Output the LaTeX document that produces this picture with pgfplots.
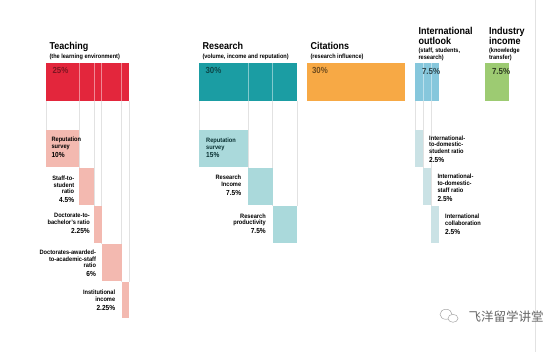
\documentclass[border=0pt]{standalone}
\usepackage{pgfplots}
\pgfplotsset{compat=1.18}
\usepackage{fontspec}
\setmainfont{Liberation Sans}[FakeStretch=0.9]
\newfontfamily\cjk{Noto Sans CJK SC}
\definecolor{teachD}{HTML}{E3263C}
\definecolor{teachL}{HTML}{F3B9B0}
\definecolor{resD}{HTML}{1B9DA3}
\definecolor{resL}{HTML}{AAD9DB}
\definecolor{citC}{HTML}{F7A945}
\definecolor{intD}{HTML}{86C7DC}
\definecolor{intL}{HTML}{CAE2E5}
\definecolor{indC}{HTML}{9DCB72}
\definecolor{guide}{HTML}{E2E2E2}
\newcommand\hd{\fontsize{10}{12}\selectfont\bfseries}
\newcommand\sbt{\fontsize{6.2}{7}\selectfont\bfseries}
\newcommand\lb{\fontsize{6.3}{7}\selectfont\bfseries}
\newcommand\pc{\fontsize{7.3}{8}\selectfont\bfseries}
\newcommand\bp{\fontsize{8.8}{9}\selectfont\bfseries}
\pgfplotsset{
 T/.style={x filter/.expression={46+3.32*x}},
 R/.style={x filter/.expression={199+3.27*x}},
 C/.style={x filter/.expression={307+3.27*x}},
 I/.style={x filter/.expression={415+3.2*x}},
 N/.style={x filter/.expression={485+3.2*x}},
 bar/.style={draw=none},
 gl/.style={guide, line width=0.6pt},
}
\begin{document}
\begin{tikzpicture}
\begin{axis}[at={(0,0)}, anchor=south west, width=556pt, height=352pt, scale only axis,
 xmin=0, xmax=556, ymin=0, ymax=352, y dir=reverse, hide axis, clip=false,
 every node/.style={inner sep=0pt, text=black!85}]
\path (rel axis cs:0,0) rectangle (rel axis cs:1,1);
% frame line
\addplot[guide, line width=0.6pt] coordinates {(535,0) (535,352)};
% ---------- guide lines (percent offsets)
\addplot[T,gl] coordinates {(0,101) (0,130)};
\addplot[T,gl] coordinates {(10,101) (10,168)};
\addplot[T,gl] coordinates {(14.5,101) (14.5,206)};
\addplot[T,gl] coordinates {(16.75,101) (16.75,244)};
\addplot[T,gl] coordinates {(22.75,101) (22.75,282)};
\addplot[T,gl] coordinates {(25,101) (25,282)};
\addplot[R,gl] coordinates {(0,101) (0,130)};
\addplot[R,gl] coordinates {(15,101) (15,168)};
\addplot[R,gl] coordinates {(22.5,101) (22.5,206)};
\addplot[R,gl] coordinates {(30,101) (30,206)};
\addplot[I,gl] coordinates {(0,101) (0,130)};
\addplot[I,gl] coordinates {(2.5,101) (2.5,168)};
\addplot[I,gl] coordinates {(5,101) (5,206)};
% ---------- Teaching 25%
\addplot[T,bar,fill=teachD] coordinates {(0,63) (25,63) (25,101) (0,101)} --cycle;
\addplot[T,teachD!55!white,line width=0.6pt] coordinates {(10,63) (10,101)};
\addplot[T,teachD!55!white,line width=0.6pt] coordinates {(14.5,63) (14.5,101)};
\addplot[T,teachD!55!white,line width=0.6pt] coordinates {(16.75,63) (16.75,101)};
\addplot[T,teachD!55!white,line width=0.6pt] coordinates {(22.75,63) (22.75,101)};
\addplot[T,bar,fill=teachL] coordinates {(0,130) (10,130) (10,167) (0,167)} --cycle;
\addplot[T,bar,fill=teachL] coordinates {(10,168) (14.5,168) (14.5,205) (10,205)} --cycle;
\addplot[T,bar,fill=teachL] coordinates {(14.5,206) (16.75,206) (16.75,243) (14.5,243)} --cycle;
\addplot[T,bar,fill=teachL] coordinates {(16.75,244) (22.75,244) (22.75,281) (16.75,281)} --cycle;
\addplot[T,bar,fill=teachL] coordinates {(22.75,282) (25,282) (25,318) (22.75,318)} --cycle;
% ---------- Research 30%
\addplot[R,bar,fill=resD] coordinates {(0,63) (30,63) (30,101) (0,101)} --cycle;
\addplot[R,resD!55!white,line width=0.6pt] coordinates {(15,63) (15,101)};
\addplot[R,resD!55!white,line width=0.6pt] coordinates {(22.5,63) (22.5,101)};
\addplot[R,bar,fill=resL] coordinates {(0,130) (15,130) (15,167) (0,167)} --cycle;
\addplot[R,bar,fill=resL] coordinates {(15,168) (22.5,168) (22.5,205) (15,205)} --cycle;
\addplot[R,bar,fill=resL] coordinates {(22.5,206) (30,206) (30,243) (22.5,243)} --cycle;
% ---------- Citations 30%
\addplot[C,bar,fill=citC] coordinates {(0,63) (30,63) (30,101) (0,101)} --cycle;
% ---------- International 7.5%
\addplot[I,bar,fill=intD] coordinates {(0,63) (7.5,63) (7.5,101) (0,101)} --cycle;
\addplot[I,intD!55!white,line width=0.6pt] coordinates {(2.5,63) (2.5,101)};
\addplot[I,intD!55!white,line width=0.6pt] coordinates {(5,63) (5,101)};
\addplot[I,bar,fill=intL] coordinates {(0,130) (2.5,130) (2.5,167) (0,167)} --cycle;
\addplot[I,bar,fill=intL] coordinates {(2.5,168) (5,168) (5,205) (2.5,205)} --cycle;
\addplot[I,bar,fill=intL] coordinates {(5,206) (7.5,206) (7.5,243) (5,243)} --cycle;
% ---------- Industry 7.5%
\addplot[N,bar,fill=indC] coordinates {(0,63) (7.5,63) (7.5,101) (0,101)} --cycle;

% ---------- headers
\node[anchor=base west] at (axis cs:46,49.5) {\hd Teaching};
\node[anchor=base west] at (axis cs:46,58.5) {\sbt (the learning environment)};
\node[anchor=base west] at (axis cs:199,49.5) {\hd Research};
\node[anchor=base west] at (axis cs:199,58.5) {\sbt (volume, income and reputation)};
\node[anchor=base west] at (axis cs:307,49.5) {\hd Citations};
\node[anchor=base west] at (axis cs:307,58.5) {\sbt (research influence)};
\node[anchor=base west] at (axis cs:415,34.3) {\hd International};
\node[anchor=base west] at (axis cs:415,44.3) {\hd outlook};
\node[anchor=base west] at (axis cs:415,52.5) {\sbt (staff, students,};
\node[anchor=base west] at (axis cs:415,59.5) {\sbt research)};
\node[anchor=base west] at (axis cs:485.5,34.3) {\hd Industry};
\node[anchor=base west] at (axis cs:485.5,44.3) {\hd income};
\node[anchor=base west] at (axis cs:485.5,52.5) {\sbt (knowledge};
\node[anchor=base west] at (axis cs:485.5,59.5) {\sbt transfer)};
% ---------- big percents
\node[anchor=base west, text=teachD!55!black] at (axis cs:49,73.5) {\bp 25\%};
\node[anchor=base west, text=resD!45!black] at (axis cs:202,73.5) {\bp 30\%};
\node[anchor=base west, text=citC!45!black] at (axis cs:308.5,73.5) {\bp 30\%};
\node[anchor=base west, text=intD!35!black] at (axis cs:418.5,74.5) {\bp 7.5\%};
\node[anchor=base west, text=indC!30!black] at (axis cs:488.5,74.5) {\bp 7.5\%};
% ---------- Teaching labels
\node[anchor=base west] at (axis cs:48,141.5) {\lb Reputation};
\node[anchor=base west] at (axis cs:48,148) {\lb survey};
\node[anchor=base west] at (axis cs:48,157) {\pc 10\%};
\node[anchor=base east] at (axis cs:77.7,180.5) {\lb Staff-to-};
\node[anchor=base east] at (axis cs:77.7,187) {\lb student};
\node[anchor=base east] at (axis cs:77.7,193.5) {\lb ratio};
\node[anchor=base east] at (axis cs:77.7,202.5) {\pc 4.5\%};
\node[anchor=base east] at (axis cs:93.3,217.3) {\lb Doctorate-to-};
\node[anchor=base east] at (axis cs:93.3,224) {\lb bachelor's ratio};
\node[anchor=base east] at (axis cs:93.3,233.3) {\pc 2.25\%};
\node[anchor=base east] at (axis cs:99.5,254) {\lb Doctorates-awarded-};
\node[anchor=base east] at (axis cs:99.5,260.7) {\lb to-academic-staff};
\node[anchor=base east] at (axis cs:99.5,267) {\lb ratio};
\node[anchor=base east] at (axis cs:99.5,276.5) {\pc 6\%};
\node[anchor=base east] at (axis cs:118.7,294.3) {\lb Institutional};
\node[anchor=base east] at (axis cs:118.7,301) {\lb income};
\node[anchor=base east] at (axis cs:118.7,310) {\pc 2.25\%};
% ---------- Research labels
\begin{scope}[every node/.append style={text=resD!30!black}]
\node[anchor=base west] at (axis cs:202.7,142.5) {\lb Reputation};
\node[anchor=base west] at (axis cs:202.7,149) {\lb survey};
\node[anchor=base west] at (axis cs:202.7,157.5) {\pc 15\%};
\end{scope}
\node[anchor=base east] at (axis cs:244.7,179.3) {\lb Research};
\node[anchor=base east] at (axis cs:244.7,186.3) {\lb Income};
\node[anchor=base east] at (axis cs:244.7,195.5) {\pc 7.5\%};
\node[anchor=base east] at (axis cs:269.3,218) {\lb Research};
\node[anchor=base east] at (axis cs:269.3,224.5) {\lb productivity};
\node[anchor=base east] at (axis cs:269.3,233.3) {\pc 7.5\%};
% ---------- International labels
\node[anchor=base west] at (axis cs:425.7,140) {\lb International-};
\node[anchor=base west] at (axis cs:425.7,146.7) {\lb to-domestic-};
\node[anchor=base west] at (axis cs:425.7,153.5) {\lb student ratio};
\node[anchor=base west] at (axis cs:425.7,162.7) {\pc 2.5\%};
\node[anchor=base west] at (axis cs:434,178.3) {\lb International-};
\node[anchor=base west] at (axis cs:434,185) {\lb to-domestic-};
\node[anchor=base west] at (axis cs:434,192) {\lb staff ratio};
\node[anchor=base west] at (axis cs:434,201.5) {\pc 2.5\%};
\node[anchor=base west] at (axis cs:441.7,218) {\lb International};
\node[anchor=base west] at (axis cs:441.7,224.7) {\lb collaboration};
\node[anchor=base west] at (axis cs:441.7,233.7) {\pc 2.5\%};
% ---------- watermark
\draw[black!35, line width=0.5pt] (axis cs:446,314) ellipse [x radius=6pt, y radius=5pt];
\draw[black!35, line width=0.5pt, fill=white] (axis cs:453,318) ellipse [x radius=5pt, y radius=4pt];
\node[anchor=base west, text=black!60] at (axis cs:465,321) {\cjk\fontsize{12.5}{13}\selectfont 飞洋留学讲堂};
\end{axis}
\end{tikzpicture}
\end{document}
